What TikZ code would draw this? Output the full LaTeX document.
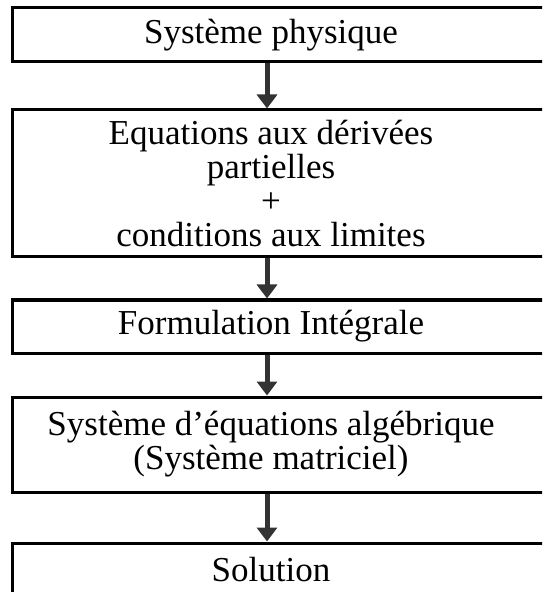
\documentclass[tikz,border=0pt]{standalone}
\usepackage{fontspec}
\setmainfont{Liberation Serif}
\usetikzlibrary{arrows.meta,positioning}

\begin{document}
\begin{tikzpicture}[
    x=0.5pt, y=-0.5pt,
    box/.style={draw, line width=1.5pt, minimum width=274pt, inner sep=0pt},
    txt/.style={align=center, xshift=-7.5pt, font=\fontsize{17.5}{17}\selectfont},
    arr/.style={-{Triangle[width=10pt,length=7pt]}, line width=2.5pt, draw=black!80}
]
\clip (0,0) rectangle (542,592);

\node[box, minimum height=27pt, label={[txt]center:Système physique}] (phys) at (286,35) {};
\node[box, minimum height=73.5pt, label={[txt]center:Equations aux dérivées\\partielles\\+\\conditions aux limites}] (pde) at (286,183.5) {};
\node[box, minimum height=26.5pt, label={[txt]center:Formulation Intégrale}] (integ) at (286,326.5) {};
\node[box, minimum height=47.5pt, label={[txt]center:Système d'équations algébrique\\(Système matriciel)}] (alg) at (286,444.5) {};
\node[box, minimum height=27pt, label={[txt]center:Solution}] (sol) at (286,570) {};

\draw[arr] ([xshift=-9.5pt]phys.south) -- ([xshift=-9.5pt]pde.north);
\draw[arr] ([xshift=-9.5pt]pde.south) -- ([xshift=-9.5pt]integ.north);
\draw[arr] ([xshift=-9.5pt]integ.south) -- ([xshift=-9.5pt]alg.north);
\draw[arr] ([xshift=-9.5pt]alg.south) -- ([xshift=-9.5pt]sol.north);
\end{tikzpicture}
\end{document}
